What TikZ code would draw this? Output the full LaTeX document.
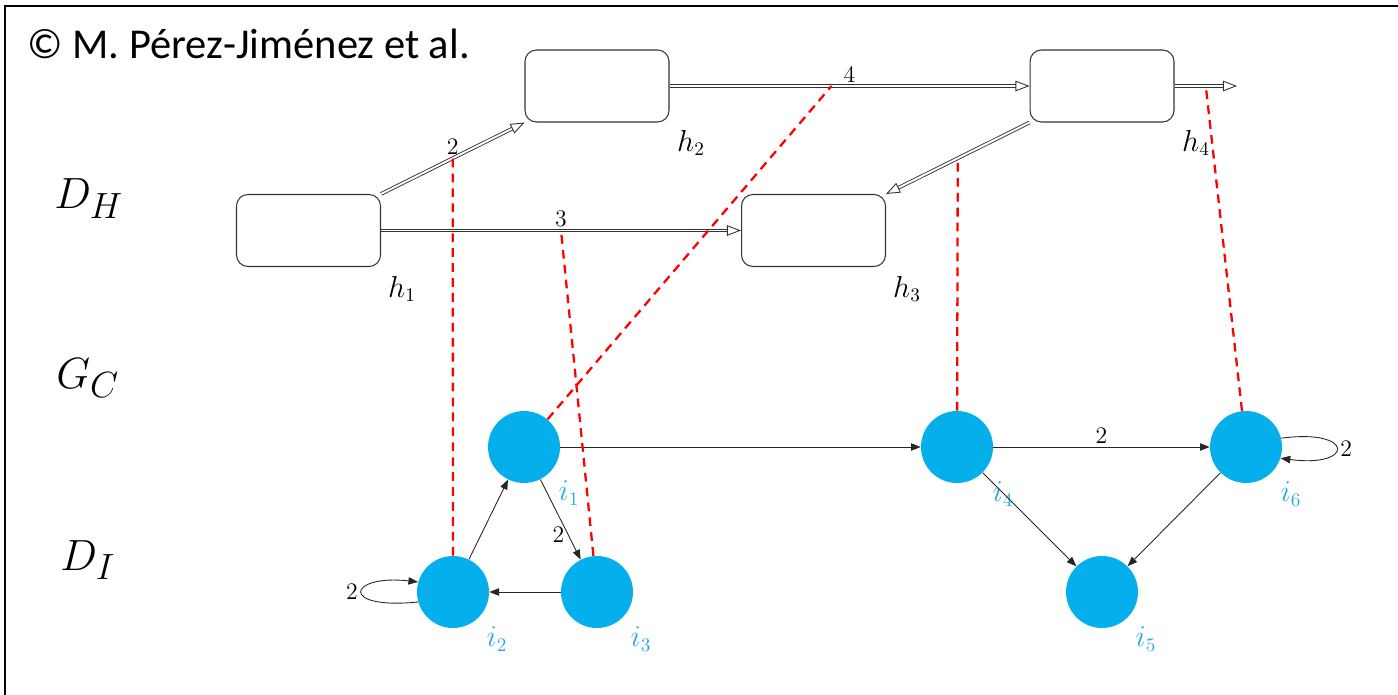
\documentclass[tikz,border=0pt]{standalone}
\usepackage{fontspec}
\newfontfamily\calib{Carlito}
\usetikzlibrary{arrows.meta,calc}
\definecolor{nodecyan}{RGB}{5,175,235}
\definecolor{labcyan}{RGB}{40,172,228}
\begin{document}
\begin{tikzpicture}[x=0.02cm,y=-0.02cm,
  hbox/.style={draw=black!80, line width=0.6pt, rounded corners=6.5pt, minimum width=2.88cm, minimum height=1.44cm, inner sep=0pt},
  inode/.style={circle, fill=nodecyan, minimum size=1.44cm, inner sep=0pt},
  dbl/.style={draw=black!80, line width=0.5pt, double=white, double distance=1.1pt, -{Triangle[open,length=8pt,width=6pt]}},
  iarrow/.style={draw=black!85, line width=0.5pt, -{Triangle[length=5.5pt,width=4.2pt]}},
  reddash/.style={draw=red, line width=1.3pt, dash pattern=on 5pt off 3.5pt},
  num/.style={font=\fontsize{13.5}{15}\selectfont, inner sep=2pt},
  hlab/.style={font=\fontsize{16}{18}\selectfont, inner sep=0pt},
  ilab/.style={font=\fontsize{16}{18}\selectfont, text=labcyan, inner sep=0pt},
  biglab/.style={font=\fontsize{30}{34}\selectfont, anchor=base west, inner sep=0pt}
]
\useasboundingbox (0,0) rectangle (1398,695);
% frame
\draw[line width=1.2pt] (5,695) -- (5,6) -- (1398,6);
\node[anchor=base west, font=\calib\fontsize{24.2}{28}\selectfont, inner sep=0pt] (copy) at (27,59) {© M. Pérez-Jiménez et al.};

% level labels
\node[biglab] (DH) at (54,209) {$D_H$};
\node[biglab] (GC) at (56,388) {$G_C$};
\node[biglab] (DI) at (60,570) {$D_I$};

% h boxes
\node[hbox] (h1) at (308.5,230.5) {};
\node[hbox] (h2) at (597,86) {};
\node[hbox] (h3) at (813.5,230.5) {};
\node[hbox] (h4) at (1102,86) {};
\node[hlab] (lh1) at (402,289) {$h_1$};
\node[hlab] (lh2) at (691,143) {$h_2$};
\node[hlab] (lh3) at (907,289) {$h_3$};
\node[hlab] (lh4) at (1196,143) {$h_4$};
\coordinate (hout) at (1237,86);

% double arrows
\draw[dbl] (h1.north east) -- coordinate[pos=0.5] (m12) node[num, above, pos=0.5] {2} (h2.south west);
\draw[dbl] (h1.east) -- coordinate[pos=0.5] (m13) node[num, above, pos=0.5] {3} (h3.west);
\draw[dbl] (h2.east) -- coordinate[pos=0.45] (m24) node[num, above, pos=0.5] {4} (h4.west);
\draw[dbl] (h4.south west) -- coordinate[pos=0.5] (m43) (h3.north east);
\draw[dbl] (h4.east) -- coordinate[pos=0.5] (m4o) (hout);

% i nodes
\node[inode] (i1) at (524,447) {};
\node[inode] (i2) at (453,592) {};
\node[inode] (i3) at (597,592) {};
\node[inode] (i4) at (957,447) {};
\node[inode] (i5) at (1102,592) {};
\node[inode] (i6) at (1246,447) {};
\node[ilab] (li1) at (569,493) {$i_1$};
\node[ilab] (li2) at (497,639) {$i_2$};
\node[ilab] (li3) at (641,639) {$i_3$};
\node[ilab] (li4) at (1003,494) {$i_4$};
\node[ilab] (li5) at (1146,639) {$i_5$};
\node[ilab] (li6) at (1291,494) {$i_6$};

% i edges
\draw[iarrow] (i1) -- (i4);
\draw[iarrow] (i4) -- node[num, above] {2} (i6);
\draw[iarrow] (i4) -- (i5);
\draw[iarrow] (i6) -- (i5);
\draw[iarrow] (i1) -- node[num, left, pos=0.69] {2} (i3);
\draw[iarrow] (i3) -- (i2);
\draw[iarrow] (i2) -- (i1);
\draw[iarrow] (i2.196) .. controls +(-80,8) and +(-70,-8) .. node[num, left, pos=0.5] {2} (i2.164);
\draw[iarrow] (i6.14) .. controls +(74,-10) and +(74,10) .. node[num, right, pos=0.5] {2} (i6.-18);

% red dashed correspondences
\draw[reddash] (i2) -- (m12);
\draw[reddash] (i3) -- (m13);
\draw[reddash] (i1) -- (m24);
\draw[reddash] (i4) -- (m43);
\draw[reddash] (i6) -- (m4o);
\end{tikzpicture}
\end{document}
